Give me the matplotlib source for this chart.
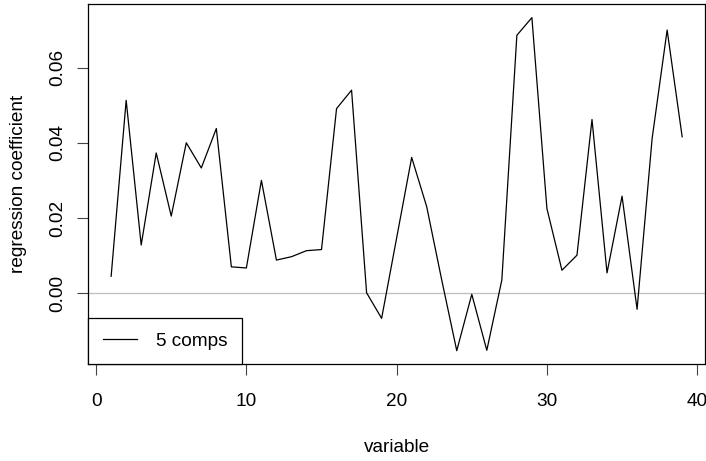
import numpy as np
import matplotlib
matplotlib.use('Agg')
import matplotlib.pyplot as plt

# regression coefficients of the 5 component model, one per variable
variable = list(range(1, 40))
coef_5comps = [0.0045, 0.0513, 0.0128, 0.0373, 0.0205, 0.0400, 0.0333, 0.0438,
               0.0070, 0.0067, 0.0300, 0.0088, 0.0097, 0.0113, 0.0116, 0.0491,
               0.0540, 0.0001, -0.0067, 0.0147, 0.0361, 0.0230, 0.0035, -0.0153,
               -0.0003, -0.0152, 0.0035, 0.0686, 0.0733, 0.0225, 0.0061, 0.0101,
               0.0462, 0.0054, 0.0258, -0.0043, 0.0411, 0.0700, 0.0416]
xticks = [0, 10, 20, 30, 40]
yticks = [0.00, 0.02, 0.04, 0.06]

plt.rcParams['font.family'] = ['Liberation Sans', 'DejaVu Sans']
plt.rcParams['font.size'] = 13.7

fig = plt.figure(figsize=(7.06, 4.61), dpi=100)
ax = fig.add_axes([88.3 / 706, 97 / 461, (705 - 88.3) / 706, (364 - 4.3) / 461])

ax.axhline(0, color='#bebebe', lw=0.9, zorder=1)
ax.plot(variable, coef_5comps, color='black', lw=0.9, label='5 comps', zorder=2)

ax.margins(x=0.04, y=0.04)
ax.set_xticks(xticks)
ax.set_yticks(yticks)
ax.set_yticklabels(['{:.2f}'.format(v) for v in yticks], rotation=90, va='center')
ax.tick_params(direction='out', length=8, width=0.8, color='#444444', pad=13)
ax.tick_params(axis='y', pad=8)
for s in ax.spines.values():
    s.set_linewidth(0.9)

ax.set_xlabel('variable', labelpad=21)
ax.set_ylabel('regression coefficient', labelpad=16)

leg = ax.legend(loc='lower left', borderaxespad=0, fancybox=False,
                edgecolor='black', framealpha=1, borderpad=0.75,
                handlelength=1.8, handletextpad=1.0)
leg.get_frame().set_linewidth(0.9)

fig.savefig('out.png', dpi=100)
